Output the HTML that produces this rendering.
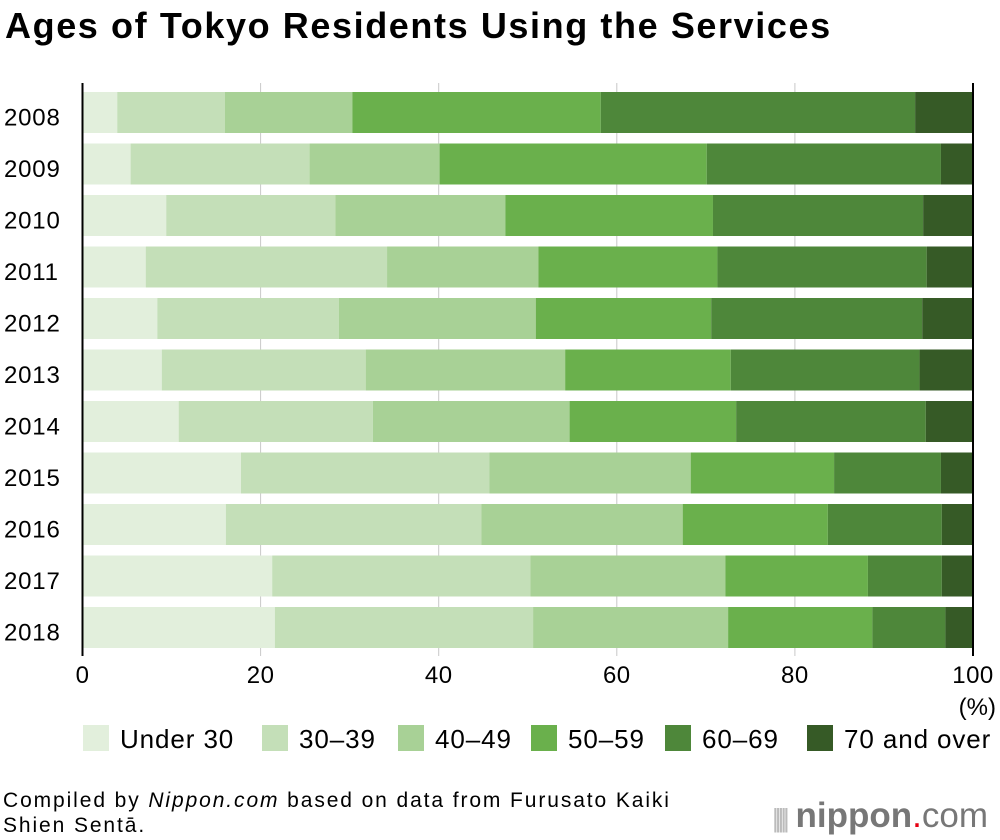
<!DOCTYPE html>
<html><head><meta charset="utf-8"><style>
body{margin:0;background:#fff;font-family:"Liberation Sans",sans-serif;}
#wrap{position:relative;width:1000px;height:840px;overflow:hidden;}
.t{position:absolute;white-space:nowrap;color:#000;}
</style></head><body>
<div id="wrap">
<div class="t" style="left:5px;top:5px;font-size:36px;font-weight:bold;letter-spacing:1.6px">Ages of Tokyo Residents Using the Services</div>
<svg id="chart" width="1000" height="840" style="position:absolute;left:0;top:0"></svg>
<div class="t" style="left:3px;top:788px;font-size:21px;line-height:25px;letter-spacing:1.9px">Compiled by <i>Nippon.com</i> based on data from Furusato Kaiki<br>Shien Sentā.</div>
<div class="t" style="left:772px;top:796px;font-size:35px;color:#777;letter-spacing:0px"><span style="font-size:26px;color:#bbb;letter-spacing:-4px">|||||</span> <b>nippon</b><span style="color:#e60012">.</span>com</div>
</div>
<script>
const years=["2008","2009","2010","2011","2012","2013","2014","2015","2016","2017","2018"];
const seriesNames=["Under 30","30–39","40–49","50–59","60–69","70 and over"];
const under30=[3.9,5.4,9.4,7.1,8.4,8.9,10.8,17.8,16.1,21.3,21.6];
const age30s=[12.1,20.1,19.0,27.1,20.4,22.9,21.8,27.9,28.7,29.0,29.0];
const age40s=[14.3,14.6,19.1,17.0,22.1,22.4,22.1,22.6,22.6,21.9,21.9];
const age50s=[27.9,30.0,23.3,20.1,19.7,18.6,18.7,16.1,16.3,16.0,16.2];
const age60s=[35.3,26.3,23.6,23.5,23.7,21.2,21.3,12.0,12.8,8.3,8.2];
const age70plus=[6.5,3.6,5.6,5.2,5.7,6.0,5.3,3.6,3.5,3.5,3.1];
const xTicks=[0,20,40,60,80,100];
const colors=["#e2efdc","#c4dfb8","#a8d196","#6ab04c","#4e873a","#365a26"];
const series=[under30,age30s,age40s,age50s,age60s,age70plus];
const NS="http://www.w3.org/2000/svg";
const svg=document.getElementById("chart");
const x0=82.5,x1=973;
const xs=v=>x0+(v/100)*(x1-x0);
const yTop=92,pitch=51.5,bh=41;
const ys=i=>yTop+i*pitch;
function mk(tag,attrs){const e=document.createElementNS(NS,tag);for(const k in attrs)e.setAttribute(k,attrs[k]);svg.appendChild(e);return e;}
xTicks.forEach((t,i)=>{
 if(t>0&&t<100){const g=mk("line",{x1:xs(t),x2:xs(t),y1:83,y2:656,stroke:"#c8c8c8","stroke-width":1});
 
 }
 const tx=mk("text",{x:xs(t),y:683,"font-size":24,"letter-spacing":0.5,"text-anchor":"middle","font-family":"Liberation Sans, sans-serif"});
 tx.textContent=t;
 
 
});
years.forEach((y,i)=>{
 let cum=0;
 series.forEach((s,k)=>{
  const r=mk("rect",{x:xs(cum),y:ys(i),width:xs(cum+s[i])-xs(cum),height:bh,fill:colors[k]});
  
  
  cum+=s[i];
 });
 const t=mk("text",{x:4,y:ys(i)+bh/2+13,"font-size":24,"letter-spacing":0.8,"font-family":"Liberation Sans, sans-serif"});
 t.textContent=y;
 
 
});
const ax=mk("line",{x1:x0,x2:x0,y1:83,y2:656,stroke:"#000","stroke-width":2});


const ax2=mk("line",{x1:x1,x2:x1,y1:83,y2:656,stroke:"#000","stroke-width":2});


const pc=mk("text",{x:996,y:715,"font-size":24,"text-anchor":"end","font-family":"Liberation Sans, sans-serif"});
pc.textContent="(%)";


const lx=[83,262,398,531,665,807];
seriesNames.forEach((n,k)=>{
 const r=mk("rect",{x:lx[k],y:725,width:26,height:26,fill:colors[k]});
 
 
 const t=mk("text",{x:lx[k]+37,y:748,"font-size":26,"letter-spacing":0.9,"font-family":"Liberation Sans, sans-serif"});
 t.textContent=n;
 
 
});
</script>
</body></html>
